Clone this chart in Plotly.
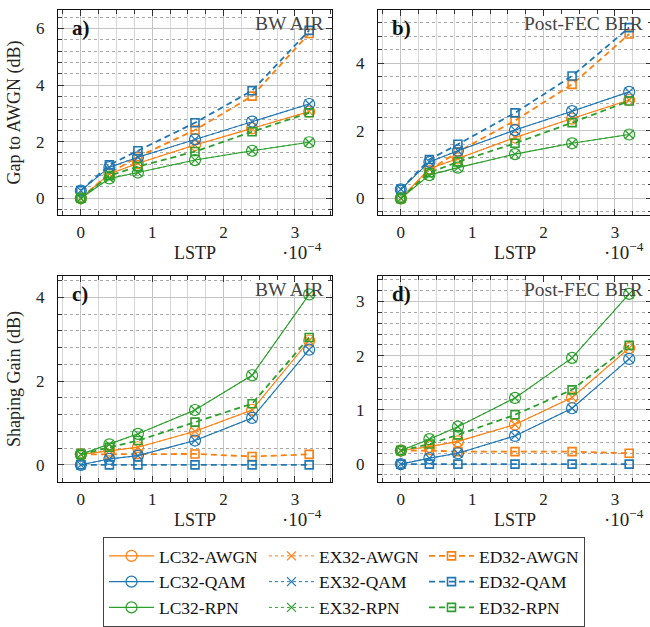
import plotly.graph_objects as go

# ---------------- data ----------------
lstp = [0, 0.4, 0.8, 1.6, 2.4, 3.2]  # LSTP in units of 1e-4
x_ticks = [0, 1, 2, 3]
x_tick_labels = ["0", "1", "2", "3"]

# a) Gap to AWGN, BW AIR
a_lc_awgn = [0, 0.86, 1.24, 1.88, 2.47, 3.06]
a_lc_qam = [0.27, 1.1, 1.45, 2.08, 2.71, 3.33]
a_lc_rpn = [0, 0.7, 0.91, 1.35, 1.68, 1.98]
a_ex_awgn = [0, 0.86, 1.24, 1.88, 2.47, 3.06]
a_ex_qam = [0.27, 1.1, 1.45, 2.08, 2.71, 3.33]
a_ex_rpn = [0, 0.7, 0.91, 1.35, 1.68, 1.98]
a_ed_awgn = [0, 0.88, 1.47, 2.41, 3.61, 5.82]
a_ed_qam = [0.27, 1.18, 1.68, 2.67, 3.8, 5.93]
a_ed_rpn = [0, 0.8, 1.12, 1.65, 2.35, 3.02]

# b) Gap to AWGN, Post-FEC BER
b_lc_awgn = [0, 0.88, 1.18, 1.8, 2.36, 2.91]
b_lc_qam = [0.27, 1.08, 1.41, 2.02, 2.58, 3.15]
b_lc_rpn = [0, 0.69, 0.91, 1.31, 1.63, 1.89]
b_ex_awgn = [0, 0.88, 1.18, 1.8, 2.36, 2.91]
b_ex_qam = [0.27, 1.08, 1.41, 2.02, 2.58, 3.15]
b_ex_rpn = [0, 0.69, 0.91, 1.31, 1.63, 1.89]
b_ed_awgn = [0, 0.84, 1.38, 2.3, 3.37, 4.86]
b_ed_qam = [0.27, 1.15, 1.6, 2.53, 3.62, 5.05]
b_ed_rpn = [0, 0.76, 1.08, 1.63, 2.24, 2.88]

# c) Shaping gain, BW AIR
c_lc_awgn = [0.25, 0.34, 0.42, 0.8, 1.31, 2.97]
c_lc_qam = [0, 0.14, 0.22, 0.58, 1.12, 2.75]
c_lc_rpn = [0.25, 0.49, 0.74, 1.31, 2.14, 4.07]
c_ex_awgn = [0.25, 0.34, 0.42, 0.8, 1.31, 2.97]
c_ex_qam = [0, 0.14, 0.22, 0.58, 1.12, 2.75]
c_ex_rpn = [0.25, 0.49, 0.74, 1.31, 2.14, 4.07]
c_ed_awgn = [0.25, 0.25, 0.25, 0.26, 0.2, 0.25]
c_ed_qam = [0, 0, 0, 0, 0, 0]
c_ed_rpn = [0.25, 0.42, 0.58, 1.02, 1.46, 3.04]

# d) Shaping gain, Post-FEC BER
d_lc_awgn = [0.25, 0.32, 0.42, 0.73, 1.23, 2.14]
d_lc_qam = [0, 0.11, 0.2, 0.52, 1.03, 1.94]
d_lc_rpn = [0.25, 0.46, 0.69, 1.22, 1.96, 3.14]
d_ex_awgn = [0.25, 0.32, 0.42, 0.73, 1.23, 2.14]
d_ex_qam = [0, 0.11, 0.2, 0.52, 1.03, 1.94]
d_ex_rpn = [0.25, 0.46, 0.69, 1.22, 1.96, 3.14]
d_ed_awgn = [0.25, 0.25, 0.23, 0.23, 0.23, 0.2]
d_ed_qam = [0, 0, 0, 0, 0, 0]
d_ed_rpn = [0.25, 0.37, 0.54, 0.91, 1.37, 2.19]

panels = [
    dict(lc=[a_lc_awgn, a_lc_qam, a_lc_rpn], ex=[a_ex_awgn, a_ex_qam, a_ex_rpn],
         ed=[a_ed_awgn, a_ed_qam, a_ed_rpn], label="a)", note="BW AIR"),
    dict(lc=[b_lc_awgn, b_lc_qam, b_lc_rpn], ex=[b_ex_awgn, b_ex_qam, b_ex_rpn],
         ed=[b_ed_awgn, b_ed_qam, b_ed_rpn], label="b)", note="Post-FEC BER"),
    dict(lc=[c_lc_awgn, c_lc_qam, c_lc_rpn], ex=[c_ex_awgn, c_ex_qam, c_ex_rpn],
         ed=[c_ed_awgn, c_ed_qam, c_ed_rpn], label="c)", note="BW AIR"),
    dict(lc=[d_lc_awgn, d_lc_qam, d_lc_rpn], ex=[d_ex_awgn, d_ex_qam, d_ex_rpn],
         ed=[d_ed_awgn, d_ed_qam, d_ed_rpn], label="d)", note="Post-FEC BER"),
]
channels = ["AWGN", "QAM", "RPN"]
colors = ["#ff7f0e", "#1f77b4", "#2ca02c"]

# ---------------- layout geometry ----------------
# the right-hand panels run 2 px past the window edge, as in the reference
W, H = 652, 627
ML, MR, MT, MB = 58, 0, 10, 145
PW = W - ML - MR
PH = H - MT - MB

def xd(p0, p1):
    return [(p0 - ML) / PW, (p1 - ML) / PW]

def yd(top, bot):
    return [1 - (bot - MT) / PH, 1 - (top - MT) / PH]

dom = [
    (xd(58, 332), yd(10, 215)),
    (xd(378, 652), yd(10, 215)),
    (xd(58, 332), yd(276, 482)),
    (xd(378, 652), yd(276, 482)),
]
xr = [-0.32, 3.52]
yr = [[-0.59, 6.65], [-0.49, 5.57], [-0.41, 4.51], [-0.33, 3.47]]
ydt = [2, 2, 2, 1]
yminor = [0.4, 0.4, 0.4, 0.2]
ytitles = ["Gap to AWGN (dB)", None, "Shaping Gain (dB)", None]
note_left = [0.705, 0.545, 0.705, 0.545]   # white note box left edge, fraction of axis width
note_h = [18 / 205, 18 / 205, 18 / 206, 18 / 206]  # white note box height, fraction of axis height
AXW = 274
axh = [205, 205, 206, 206]

SERIF = "Liberation Serif, Times New Roman, serif"
fig = go.Figure()

for i, p in enumerate(panels):
    xa = "x" if i == 0 else f"x{i+1}"
    ya = "y" if i == 0 else f"y{i+1}"
    # white backing for the corner note: above the grid, below the data
    x0, x1 = xr
    y0, y1 = yr[i]
    bx0 = x0 + note_left[i] * (x1 - x0)
    by0 = y1 - note_h[i] * (y1 - y0)
    fig.add_trace(go.Scatter(
        x=[bx0, x1, x1, bx0, bx0], y=[by0, by0, y1, y1, by0], mode="lines",
        fill="toself", fillcolor="white", line=dict(width=0, color="white"),
        hoverinfo="skip", showlegend=False, xaxis=xa, yaxis=ya))
    for k in range(3):
        show = i == 0
        fig.add_trace(go.Scatter(
            x=lstp, y=p["lc"][k], mode="lines+markers", name=f"LC32-{channels[k]}",
            line=dict(color=colors[k], width=1.1),
            marker=dict(symbol="circle-open", size=11, color=colors[k], line=dict(width=1.2)),
            xaxis=xa, yaxis=ya, showlegend=show, legendrank=k * 3 + 1))
        fig.add_trace(go.Scatter(
            x=lstp, y=p["ex"][k], mode="lines+markers", name=f"EX32-{channels[k]}",
            line=dict(color=colors[k], width=1, dash="dot"),
            marker=dict(symbol="x-thin-open", size=9, color=colors[k], line=dict(width=1.2, color=colors[k])),
            xaxis=xa, yaxis=ya, showlegend=show, legendrank=k * 3 + 2))
        fig.add_trace(go.Scatter(
            x=lstp, y=p["ed"][k], mode="lines+markers", name=f"ED32-{channels[k]}",
            line=dict(color=colors[k], width=1.8, dash="6px,4px"),
            marker=dict(symbol="square-open", size=8, color=colors[k], line=dict(width=1.6)),
            xaxis=xa, yaxis=ya, showlegend=show, legendrank=k * 3 + 3))

axis_common = dict(
    showline=True, linecolor="#111", linewidth=1, mirror="ticks",
    ticks="inside", ticklen=6, tickwidth=1, tickcolor="#333",
    showgrid=True, gridcolor="#c4c4c4", gridwidth=1,
    zeroline=False, automargin=False,
    tickfont=dict(family=SERIF, size=17, color="#222"),
)

layout = dict(width=W, height=H, margin=dict(l=ML, r=MR, t=MT, b=MB, autoexpand=False),
              paper_bgcolor="white", plot_bgcolor="white",
              font=dict(family=SERIF, color="#222", size=17))
annotations = []
for i in range(4):
    sx = "" if i == 0 else str(i + 1)
    xdom, ydom = dom[i]
    layout["xaxis" + sx] = dict(
        axis_common, domain=xdom, range=xr, anchor="y" + sx,
        tickvals=x_ticks, ticktext=x_tick_labels, ticklabelstandoff=2,
        minor=dict(dtick=0.25, tick0=0, ticks="inside", ticklen=4, tickcolor="#333",
                   showgrid=True, gridcolor="#d6d6d6", gridwidth=1),
        title=dict(text="LSTP", font=dict(family=SERIF, size=18, color="#222"), standoff=4),
    )
    yax = dict(
        axis_common, domain=ydom, range=yr[i], anchor="x" + sx,
        dtick=ydt[i], tick0=0, ticklabelstandoff=9,
        minor=dict(dtick=yminor[i], tick0=0, ticks="inside", ticklen=4, tickcolor="#333",
                   showgrid=True, gridcolor="#a8a8a8", gridwidth=1, griddash="dot"),
    )
    if ytitles[i]:
        yax["title"] = dict(text=ytitles[i], font=dict(family=SERIF, size=18, color="#222"), standoff=10)
    layout["yaxis" + sx] = yax

    xref = ("x" + sx) + " domain"
    yref = ("y" + sx) + " domain"
    annotations.append(dict(text="<b>" + panels[i]["label"] + "</b>", xref=xref, yref=yref,
                            x=12 / AXW, y=1 - 4 / axh[i], xanchor="left", yanchor="top", showarrow=False,
                            font=dict(family=SERIF, size=21, color="#111")))
    annotations.append(dict(text=panels[i]["note"], xref=xref, yref=yref,
                            x=1, y=1, xanchor="right", yanchor="top", showarrow=False,
                            xshift=-7, yshift=-1,
                            font=dict(family=SERIF, size=19.5, color="#444")))
    annotations.append(dict(text="·10<sup>−4</sup>", xref=xref, yref=yref,
                            x=1, y=-36 / axh[i], xanchor="right", yanchor="middle", showarrow=False,
                            xshift=-8 if i in (0, 2) else -6,
                            font=dict(family=SERIF, size=19, color="#222")))

layout["annotations"] = annotations
layout["legend"] = dict(
    orientation="h", x=(103 - ML) / PW, xanchor="left", y=(482 - 537) / PH, yanchor="top",
    entrywidth=100, itemwidth=45, bordercolor="#444", borderwidth=1, bgcolor="white",
    font=dict(family=SERIF, size=17.5, color="#111"), traceorder="normal",
)
fig.update_layout(**layout)
fig.write_html("out.html", config={"displayModeBar": False},
               post_script="document.body.style.margin='0px';document.body.style.overflow='hidden';")
